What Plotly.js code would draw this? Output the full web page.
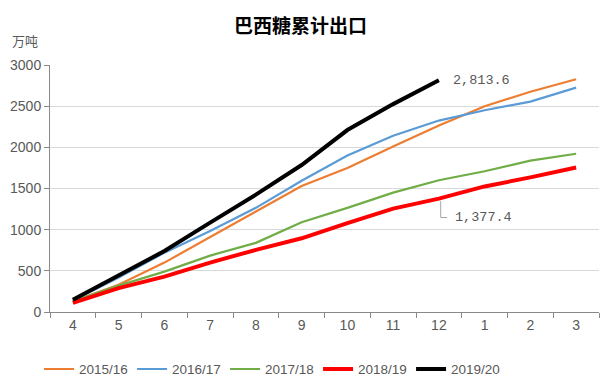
<!DOCTYPE html>
<html><head><meta charset="utf-8">
<script src="https://cdn.plot.ly/plotly-3.0.1.min.js"></script>
<style>html,body{margin:0;padding:0;background:#fff}#c{width:601px;height:376px}</style>
</head><body><div id="c"></div>
<script>
const months = ['4','5','6','7','8','9','10','11','12','1','2','3'];
const s1516 = [130, 330, 600, 905, 1220, 1530, 1750, 2010, 2265, 2500, 2675, 2827];
const s1617 = [140, 420, 720, 985, 1265, 1595, 1900, 2140, 2325, 2450, 2555, 2725];
const s1718 = [130, 320, 490, 685, 840, 1090, 1265, 1450, 1600, 1710, 1838, 1922];
const s1819 = [110, 290, 430, 600, 755, 895, 1080, 1255, 1377.4, 1525, 1635, 1755];
const s1920 = [150, 440, 740, 1085, 1425, 1785, 2210, 2525, 2813.6];
const seasons = ['2015/16','2016/17','2017/18','2018/19','2019/20'];
const colors = ['#ED7D31','#5B9BD5','#70AD47','#FF0000','#000000'];
const widths = [2.2, 2.2, 2.2, 4, 4];
const series = [s1516, s1617, s1718, s1819, s1920];
const labelFont = "'Liberation Mono', 'DejaVu Sans Mono', monospace";
const tickFont = "'Liberation Sans Narrow', 'Liberation Sans', Arial, sans-serif";

const traces = series.map((s, i) => ({
  type: 'scatter', mode: 'lines', name: seasons[i],
  x: months.slice(0, s.length), y: s,
  line: {color: colors[i], width: widths[i]},
  hoverinfo: 'skip'
}));

const endIdx = s1920.length - 1;
const redIdx = 8;
const layout = {
  width: 601, height: 376,
  margin: {l: 50, r: 2, t: 65, b: 64},
  paper_bgcolor: '#fff', plot_bgcolor: '#fff',
  showlegend: true,
  title: {text: '巴西糖累计出口', x: 0.5, xanchor: 'center', y: 0.93, yanchor: 'middle',
    font: {family: "'Noto Sans CJK SC', sans-serif", size: 19, color: '#000', weight: 'bold'}},
  xaxis: {type: 'category', categoryorder: 'array', categoryarray: months,
    range: [-0.5, 11.5], showgrid: false, showline: true, linecolor: '#898989', linewidth: 1,
    ticks: 'outside', tickson: 'boundaries', ticklen: 5, tickcolor: '#898989',
    tickfont: {family: tickFont, size: 14, color: '#595959'}, fixedrange: true},
  yaxis: {range: [0, 3000], dtick: 500, showgrid: true, gridcolor: '#D9D9D9', gridwidth: 1,
    showline: true, linecolor: '#898989', linewidth: 1, ticks: 'outside', ticklen: 5, tickcolor: '#898989',
    zeroline: false, tickfont: {family: tickFont, size: 14, color: '#595959'}, fixedrange: true},
  legend: {orientation: 'h', xref: 'container', yref: 'container', x: 0.065, xanchor: 'left', y: 0.018, yanchor: 'middle',
    font: {family: tickFont, size: 13.5, color: '#595959'}, itemwidth: 30, entrywidth: 48, entrywidthmode: 'pixels', tracegroupgap: 0},
  annotations: [
    {xref: 'paper', yref: 'paper', x: -0.073, y: 1.1, xanchor: 'left', yanchor: 'middle',
     text: '万吨', showarrow: false, font: {family: "'Noto Sans CJK SC', sans-serif", size: 13, color: '#595959'}},
    {x: endIdx, y: s1920[endIdx], xref: 'x', yref: 'y', xanchor: 'left', yanchor: 'middle', xshift: 12,
     text: s1920[endIdx].toLocaleString('en-US', {minimumFractionDigits: 1}), showarrow: false,
     font: {family: labelFont, size: 13.5, color: '#595959'}},
    {x: redIdx, y: s1819[redIdx], xref: 'x', yref: 'y', xanchor: 'left', yanchor: 'middle', xshift: 14, yshift: -19,
     text: s1819[redIdx].toLocaleString('en-US', {minimumFractionDigits: 1}), showarrow: false,
     font: {family: labelFont, size: 13.5, color: '#595959'}}
  ],
  shapes: [
    {type: 'path', xref: 'x', yref: 'y', line: {color: '#A6A6A6', width: 1},
     path: 'M ' + (redIdx + 0.04) + ' ' + (s1819[redIdx] - 30) + ' L ' + (redIdx + 0.04) + ' ' + (s1819[redIdx] - 230) + ' L ' + (redIdx + 0.18) + ' ' + (s1819[redIdx] - 230)}
  ]
};
Plotly.newPlot('c', traces, layout, {displayModeBar: false, staticPlot: true});
</script></body></html>
